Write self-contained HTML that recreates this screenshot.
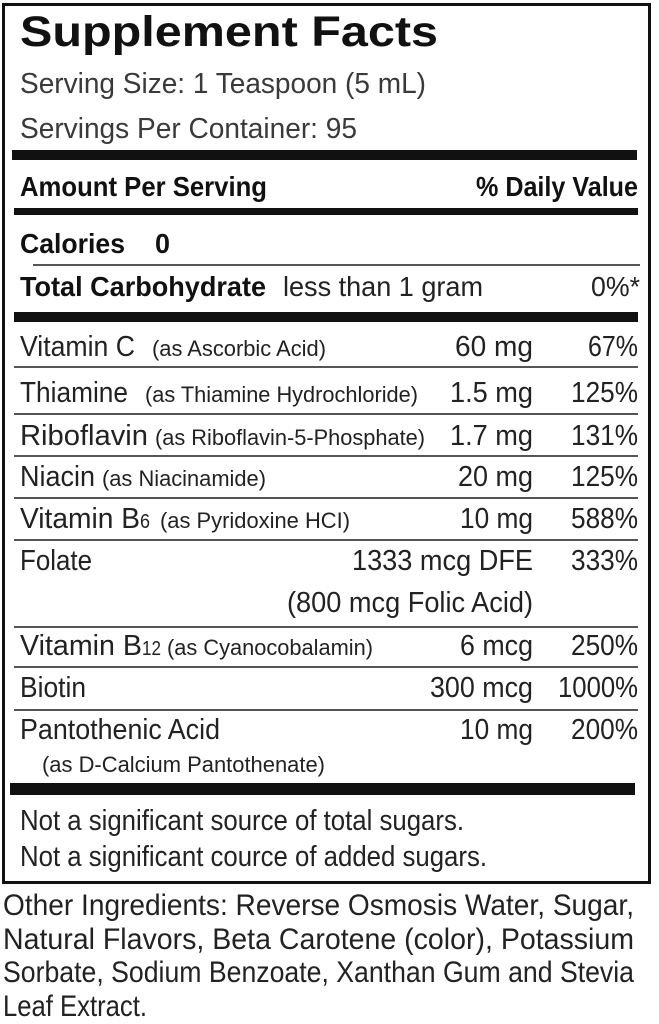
<!DOCTYPE html>
<html>
<head>
<meta charset="utf-8">
<style>
html,body{margin:0;padding:0;background:#fff;}
svg{display:block;}
text{font-family:"Liberation Sans",Arial,sans-serif;}
.b{font-weight:bold;fill:#111;}
.r{fill:#222;}
.g{fill:#3a3a3a;}
.s{fill:#222;}
</style>
</head>
<body>
<svg width="659" height="1024" viewBox="0 0 659 1024" xmlns="http://www.w3.org/2000/svg">
<rect x="0" y="0" width="659" height="1024" fill="#fff"/>
<rect x="3.5" y="4.5" width="646" height="878" fill="none" stroke="#111" stroke-width="3"/>

<text class="b" x="20" y="46" font-size="43" textLength="418" lengthAdjust="spacingAndGlyphs">Supplement Facts</text>
<text class="g" x="20" y="93" font-size="29" textLength="406" lengthAdjust="spacingAndGlyphs">Serving Size:  1 Teaspoon (5 mL)</text>
<text class="g" x="20" y="138" font-size="29" textLength="337" lengthAdjust="spacingAndGlyphs">Servings Per Container:  95</text>

<rect x="12" y="150" width="625" height="10" fill="#111"/>

<text class="b" x="20" y="196" font-size="28" textLength="247" lengthAdjust="spacingAndGlyphs">Amount Per Serving</text>
<text class="b" x="476" y="196" font-size="28" textLength="162" lengthAdjust="spacingAndGlyphs">% Daily Value</text>

<rect x="14" y="208" width="624" height="7" fill="#111"/>

<text class="b" x="20" y="253" font-size="28" textLength="105" lengthAdjust="spacingAndGlyphs">Calories</text>
<text class="b" x="155" y="253" font-size="28" textLength="15" lengthAdjust="spacingAndGlyphs">0</text>

<rect x="33" y="264" width="607" height="2" fill="#555"/>

<text class="b" x="20" y="296" font-size="28" textLength="246" lengthAdjust="spacingAndGlyphs">Total Carbohydrate</text>
<text class="r" x="283" y="296" font-size="28" textLength="200" lengthAdjust="spacingAndGlyphs">less than 1 gram</text>
<text class="r" x="591" y="296" font-size="28" textLength="49" lengthAdjust="spacingAndGlyphs">0%*</text>

<rect x="14" y="312" width="624" height="10" fill="#111"/>

<!-- Vitamin C -->
<text class="r" x="20" y="356" font-size="29" textLength="115" lengthAdjust="spacingAndGlyphs">Vitamin C</text>
<text class="s" x="152" y="356" font-size="22" textLength="174" lengthAdjust="spacingAndGlyphs">(as Ascorbic Acid)</text>
<text class="r" x="533" y="356" font-size="29" text-anchor="end" textLength="78" lengthAdjust="spacingAndGlyphs">60 mg</text>
<text class="r" x="638" y="356" font-size="29" text-anchor="end" textLength="50" lengthAdjust="spacingAndGlyphs">67%</text>
<rect x="14" y="366" width="624" height="2" fill="#555"/>

<!-- Thiamine -->
<text class="r" x="20" y="402" font-size="29" textLength="108" lengthAdjust="spacingAndGlyphs">Thiamine</text>
<text class="s" x="145" y="402" font-size="22" textLength="273" lengthAdjust="spacingAndGlyphs">(as Thiamine Hydrochloride)</text>
<text class="r" x="533" y="402" font-size="29" text-anchor="end" textLength="83" lengthAdjust="spacingAndGlyphs">1.5 mg</text>
<text class="r" x="638" y="402" font-size="29" text-anchor="end" textLength="67" lengthAdjust="spacingAndGlyphs">125%</text>
<rect x="14" y="413" width="624" height="2" fill="#555"/>

<!-- Riboflavin -->
<text class="r" x="20" y="445" font-size="29" textLength="128" lengthAdjust="spacingAndGlyphs">Riboflavin</text>
<text class="s" x="155" y="445" font-size="22" textLength="270" lengthAdjust="spacingAndGlyphs">(as Riboflavin-5-Phosphate)</text>
<text class="r" x="533" y="445" font-size="29" text-anchor="end" textLength="83" lengthAdjust="spacingAndGlyphs">1.7 mg</text>
<text class="r" x="638" y="445" font-size="29" text-anchor="end" textLength="67" lengthAdjust="spacingAndGlyphs">131%</text>
<rect x="14" y="455" width="624" height="2" fill="#555"/>

<!-- Niacin -->
<text class="r" x="20" y="486" font-size="29" textLength="75" lengthAdjust="spacingAndGlyphs">Niacin</text>
<text class="s" x="102" y="486" font-size="22" textLength="164" lengthAdjust="spacingAndGlyphs">(as Niacinamide)</text>
<text class="r" x="533" y="486" font-size="29" text-anchor="end" textLength="75" lengthAdjust="spacingAndGlyphs">20 mg</text>
<text class="r" x="638" y="486" font-size="29" text-anchor="end" textLength="67" lengthAdjust="spacingAndGlyphs">125%</text>
<rect x="14" y="497" width="624" height="2" fill="#555"/>

<!-- Vitamin B6 -->
<text class="r" x="20" y="528" font-size="29" textLength="120" lengthAdjust="spacingAndGlyphs">Vitamin B</text>
<text class="r" x="140" y="528" font-size="20" textLength="10" lengthAdjust="spacingAndGlyphs">6</text>
<text class="s" x="160" y="528" font-size="22" textLength="190" lengthAdjust="spacingAndGlyphs">(as Pyridoxine HCI)</text>
<text class="r" x="533" y="528" font-size="29" text-anchor="end" textLength="73" lengthAdjust="spacingAndGlyphs">10 mg</text>
<text class="r" x="638" y="528" font-size="29" text-anchor="end" textLength="67" lengthAdjust="spacingAndGlyphs">588%</text>
<rect x="14" y="539" width="624" height="2" fill="#555"/>

<!-- Folate -->
<text class="r" x="20" y="570" font-size="29" textLength="72" lengthAdjust="spacingAndGlyphs">Folate</text>
<text class="r" x="352" y="570" font-size="29" textLength="181" lengthAdjust="spacingAndGlyphs">1333 mcg DFE</text>
<text class="r" x="638" y="570" font-size="29" text-anchor="end" textLength="67" lengthAdjust="spacingAndGlyphs">333%</text>
<text class="r" x="287" y="612" font-size="29" textLength="246" lengthAdjust="spacingAndGlyphs">(800 mcg Folic Acid)</text>
<rect x="14" y="626" width="624" height="2" fill="#555"/>

<!-- Vitamin B12 -->
<text class="r" x="20" y="655" font-size="29" textLength="122" lengthAdjust="spacingAndGlyphs">Vitamin B</text>
<text class="r" x="142" y="655" font-size="20" textLength="19" lengthAdjust="spacingAndGlyphs">12</text>
<text class="s" x="167" y="655" font-size="22" textLength="206" lengthAdjust="spacingAndGlyphs">(as Cyanocobalamin)</text>
<text class="r" x="533" y="655" font-size="29" text-anchor="end" textLength="73" lengthAdjust="spacingAndGlyphs">6 mcg</text>
<text class="r" x="638" y="655" font-size="29" text-anchor="end" textLength="67" lengthAdjust="spacingAndGlyphs">250%</text>
<rect x="14" y="666" width="624" height="2" fill="#555"/>

<!-- Biotin -->
<text class="r" x="20" y="697" font-size="29" textLength="66" lengthAdjust="spacingAndGlyphs">Biotin</text>
<text class="r" x="533" y="697" font-size="29" text-anchor="end" textLength="103" lengthAdjust="spacingAndGlyphs">300 mcg</text>
<text class="r" x="638" y="697" font-size="29" text-anchor="end" textLength="80" lengthAdjust="spacingAndGlyphs">1000%</text>
<rect x="14" y="709" width="624" height="2" fill="#555"/>

<!-- Pantothenic -->
<text class="r" x="20" y="739" font-size="29" textLength="200" lengthAdjust="spacingAndGlyphs">Pantothenic Acid</text>
<text class="r" x="533" y="739" font-size="29" text-anchor="end" textLength="73" lengthAdjust="spacingAndGlyphs">10 mg</text>
<text class="r" x="638" y="739" font-size="29" text-anchor="end" textLength="67" lengthAdjust="spacingAndGlyphs">200%</text>
<text class="s" x="42" y="772" font-size="22" textLength="283" lengthAdjust="spacingAndGlyphs">(as D-Calcium Pantothenate)</text>

<rect x="10" y="783" width="625" height="12" fill="#111"/>

<text class="r" x="20" y="830" font-size="29" textLength="444" lengthAdjust="spacingAndGlyphs">Not a significant source of total sugars.</text>
<text class="r" x="20" y="866" font-size="29" textLength="467" lengthAdjust="spacingAndGlyphs">Not a significant cource of added sugars.</text>

<text class="r" x="3" y="915" font-size="30" textLength="631" lengthAdjust="spacingAndGlyphs">Other Ingredients: Reverse Osmosis Water, Sugar,</text>
<text class="r" x="3" y="949" font-size="30" textLength="631" lengthAdjust="spacingAndGlyphs">Natural Flavors, Beta Carotene (color), Potassium</text>
<text class="r" x="3" y="982" font-size="30" textLength="631" lengthAdjust="spacingAndGlyphs">Sorbate, Sodium Benzoate, Xanthan Gum and Stevia</text>
<text class="r" x="3" y="1016" font-size="30" textLength="144" lengthAdjust="spacingAndGlyphs">Leaf Extract.</text>
</svg>
</body>
</html>
